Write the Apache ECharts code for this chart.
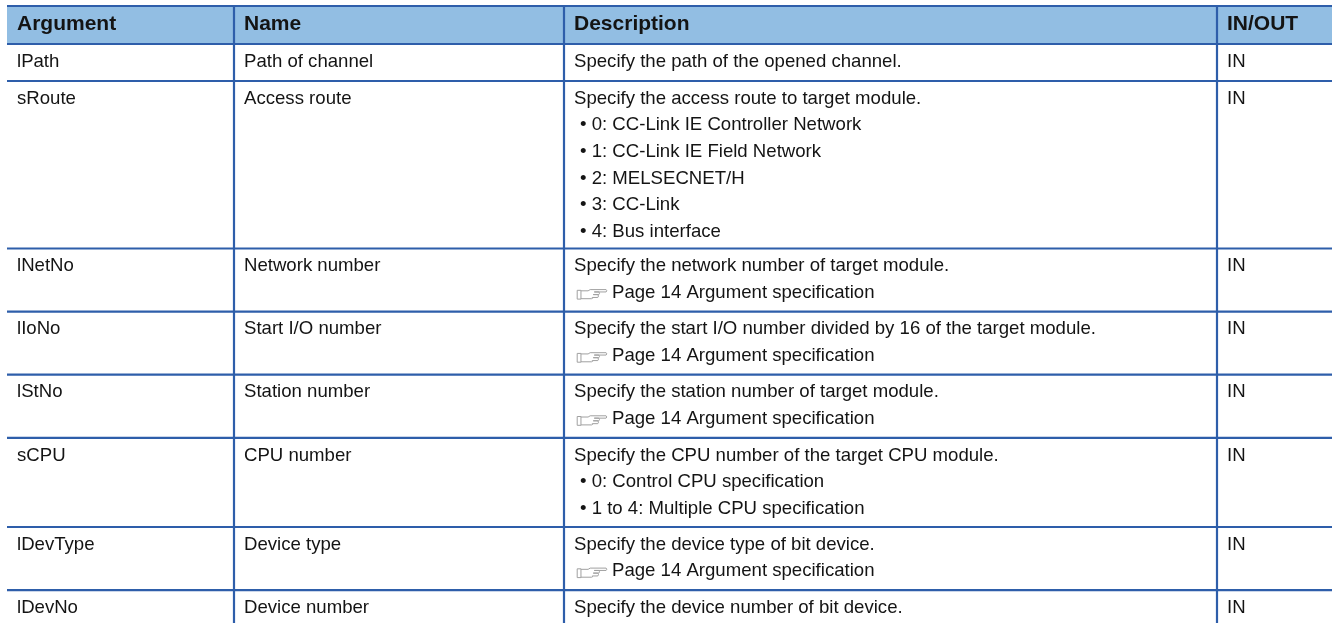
<!DOCTYPE html>
<html><head><meta charset="utf-8">
<script src="https://cdn.jsdelivr.net/npm/echarts@6/dist/echarts.min.js"></script>
<style>html,body{margin:0;padding:0;background:#fff;overflow:hidden}#c{width:1332px;height:623px}</style>
</head><body><div id="c"></div>
<script>
// ---- data ----
const headers = ["Argument", "Name", "Description", "IN/OUT"];
const argumentsCol = ["lPath", "sRoute", "lNetNo", "lIoNo", "lStNo", "sCPU", "lDevType", "lDevNo"];
const names = ["Path of channel", "Access route", "Network number", "Start I/O number", "Station number", "CPU number", "Device type", "Device number"];
const REF = "☞ Page 14 Argument specification";
const descriptions = [
  ["Specify the path of the opened channel."],
  ["Specify the access route to target module.", "• 0: CC-Link IE Controller Network", "• 1: CC-Link IE Field Network", "• 2: MELSECNET/H", "• 3: CC-Link", "• 4: Bus interface"],
  ["Specify the network number of target module.", REF],
  ["Specify the start I/O number divided by 16 of the target module.", REF],
  ["Specify the station number of target module.", REF],
  ["Specify the CPU number of the target CPU module.", "• 0: Control CPU specification", "• 1 to 4: Multiple CPU specification"],
  ["Specify the device type of bit device.", REF],
  ["Specify the device number of bit device."]
];
const inOut = ["IN", "IN", "IN", "IN", "IN", "IN", "IN", "IN"];

// ---- layout / style ----
const W = 1332, H = 623;
const LINE = '#2E5EAA', HEAD = '#92BEE3', INK = '#141414', ICON = '#a0a0a0';
const FONT = '"Liberation Sans", Arial, sans-serif';
const colLeft = [7, 234, 564, 1217];
const tableTop = 6, headerBottom = 44, headBase = 31;
const padX = 10, firstBase = 24, lineStep = 26.6, rowBase = 37, rowStep = 26.1;
const FS = 18.6, HFS = 21;

const texts = [];
const hLines = [tableTop, headerBottom];
headers.forEach((h, c) => texts.push({x: colLeft[c] + padX, base: headBase, text: h, bold: true}));
let rowTop = headerBottom;
argumentsCol.forEach((a, i) => {
  const cells = [[a], [names[i]], descriptions[i], [inOut[i]]];
  const n = Math.max(...cells.map(c => c.length));
  cells.forEach((lines, c) => {
    lines.forEach((ln, k) => {
      const base = rowTop + firstBase + k * lineStep;
      const x = colLeft[c] + padX;
      if (ln.startsWith('•')) { texts.push({x: x + 6, base, text: ln}); }
      else if (ln.startsWith('☞')) {
        texts.push({x: x + 3, base, text: '', kind: 'icon'});
        texts.push({x: x + 38, base, text: ln.replace('☞', '').trim()});
      } else texts.push({x, base, text: ln});
    });
  });
  rowTop += rowBase + (n - 1) * rowStep;
  hLines.push(rowTop);
});

const chart = echarts.init(document.getElementById('c'), null, {renderer: 'canvas'});
const handPath = 'M4,1.5 L11,1.5 L13,0.3 L28.6,0.3 Q30,1.4 28.6,2.6 L17,2.6 M17,2.6 L21.5,2.6 Q22.8,3.9 21.5,5.2 L16,5.2 M16,5.2 L20.5,5.2 Q21.8,6.6 20.5,8 L15,8 M15,8 Q16,9 14.5,9.2 L4,9.2 M0.3,1 L4,1 L4,9.6 L0.3,9.6 Z';

chart.setOption({
  animation: false,
  grid: {left: 0, right: 0, top: 0, bottom: 0},
  xAxis: {type: 'value', min: 0, max: W, show: false},
  yAxis: {type: 'value', min: 0, max: H, inverse: true, show: false},
  series: [
    { type: 'custom', data: [[colLeft[0], tableTop, W, headerBottom]], z: 1,
      renderItem: (p, api) => {
        const a = api.coord([api.value(0), api.value(1)]), b = api.coord([api.value(2), api.value(3)]);
        return {type: 'rect', shape: {x: a[0], y: a[1], width: b[0] - a[0], height: b[1] - a[1]}, style: {fill: HEAD}};
      }},
    { type: 'custom', data: hLines.map(y => [colLeft[0], W, y]), z: 3,
      renderItem: (p, api) => {
        const a = api.coord([api.value(0), api.value(2)]), b = api.coord([api.value(1), api.value(2)]);
        return {type: 'line', shape: {x1: a[0], y1: a[1], x2: b[0], y2: b[1]}, style: {stroke: LINE, lineWidth: 2.2}};
      }},
    { type: 'custom', data: colLeft.slice(1).map(x => [x, tableTop, H]), z: 3,
      renderItem: (p, api) => {
        const a = api.coord([api.value(0), api.value(1)]), b = api.coord([api.value(0), api.value(2)]);
        return {type: 'line', shape: {x1: a[0], y1: a[1], x2: b[0], y2: b[1]}, style: {stroke: LINE, lineWidth: 2.2}};
      }},
    { type: 'custom', data: texts.map(t => [t.x, t.base]), z: 4,
      renderItem: (p, api) => {
        const t = texts[p.dataIndex];
        const q = api.coord([api.value(0), api.value(1)]);
        if (t.kind === 'icon') {
          return {type: 'path', shape: {pathData: handPath, x: q[0], y: q[1] - 9.5, width: 30, height: 9.5},
                  style: {stroke: ICON, fill: 'none', lineWidth: 1}};
        }
        const fs = t.bold ? HFS : FS;
        return {type: 'text', x: q[0], y: q[1] - 0.345 * fs,
          style: {text: t.text, fill: INK, fontSize: fs, fontWeight: t.bold ? 'bold' : 'normal', fontFamily: FONT,
                  align: 'left', verticalAlign: 'middle'}};
      }}
  ]
});
</script></body></html>
